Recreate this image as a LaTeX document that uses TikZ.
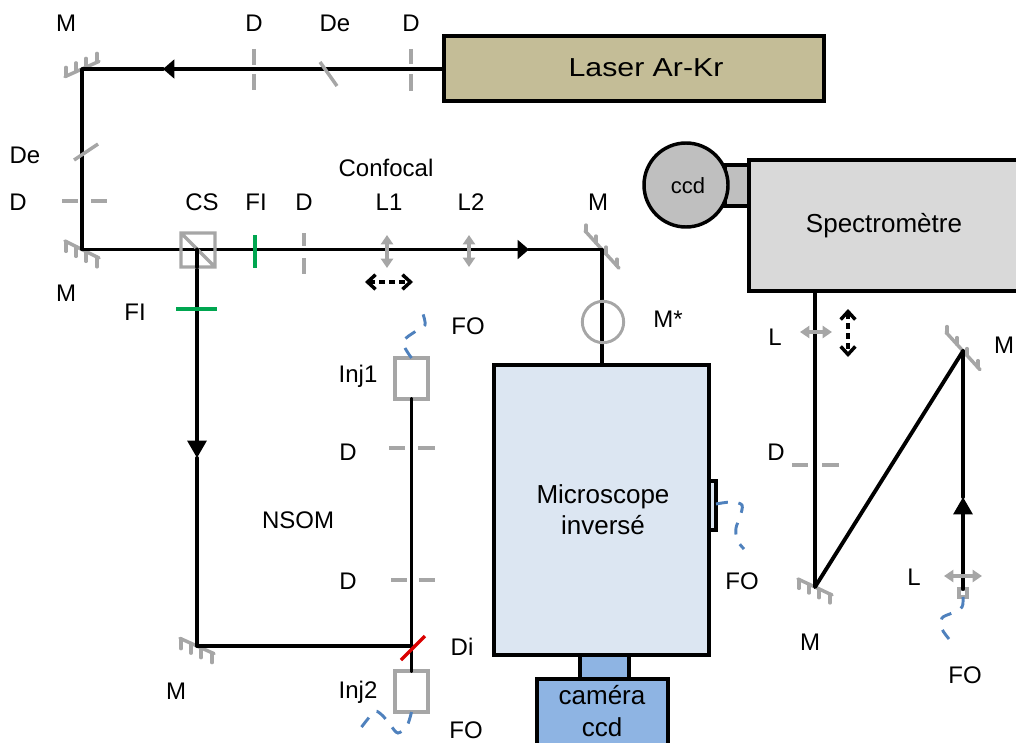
\documentclass[tikz,border=0pt]{standalone}
\usepackage{fontspec}
\setmainfont{Liberation Sans}
\usetikzlibrary{arrows.meta}
\definecolor{optgray}{HTML}{A6A6A6}
\definecolor{fibblue}{HTML}{4F81BD}
\definecolor{filtgreen}{HTML}{00A650}
\definecolor{lasertan}{HTML}{C4BD97}
\definecolor{microblue}{HTML}{DCE6F2}
\definecolor{camblue}{HTML}{8EB4E3}
\tikzset{
  beam/.style={line width=2.9pt, black, line cap=round, line join=round},
  optic/.style={line width=2.6pt, optgray},
  lens/.style={line width=2.4pt, optgray, {Triangle[length=7pt,width=9pt]}-{Triangle[length=7pt,width=9pt]}},
  shift arrow/.style={line width=2.6pt, black, dash pattern=on 4.5pt off 3pt, {Straight Barb[length=6pt,width=11pt]}-{Straight Barb[length=6pt,width=11pt]}},
  fibre/.style={line width=2.2pt, fibblue, dash pattern=on 9pt off 8pt},
  flow/.style={beam, -{Triangle[length=8.5pt,width=14pt]}},
  flow long/.style={beam, -{Triangle[length=13pt,width=14pt]}},
  lab/.style={inner sep=0pt, font=\fontsize{18}{20}\selectfont},
  big/.style={inner sep=0pt, align=center, font=\fontsize{19.5}{23.5}\selectfont},
  box/.style={draw, line width=2.6pt, inner sep=0pt, outer sep=0pt},
  graybox/.style={draw=optgray, fill=white, line width=2.6pt, inner sep=0pt, outer sep=0pt},
  mirror/.pic={
    \draw[optic, line width=2.6pt, line cap=round, line join=round] (-17,0) -- (17,0);
    \foreach \tx in {-16,-6,4,15} \draw[optic, line width=2.3pt, line cap=round] (\tx,0) -- (\tx,#1);
  },
}
\begin{document}
\begin{tikzpicture}[x=0.75pt,y=-0.75pt]
\clip (0,0) rectangle (1016,742);
% instruments
\node[box, fill=lasertan, minimum width=285pt, minimum height=48.75pt] (laser) at (634,68.5){};
\node[big] (lablaser) at (646,68){\scalebox{1.165}[1]{Laser Ar-Kr}};
\node[box, fill=black!25, minimum width=18pt, minimum height=30.75pt] (neck) at (737,185.5){};
\node[box, fill=black!25, circle, minimum size=63pt] (ccd) at (686,185){};
\node[big, font=\fontsize{16.5}{20}\selectfont] (labccd) at (688,186){ccd};
\node[box, fill=black!15, minimum width=225pt, minimum height=98.25pt] (spectro) at (899,225.5){};
\node[big] (labspectro) at (884,226){Spectromètre};
\node[box, fill=microblue, minimum width=5.25pt, minimum height=36.75pt] (port) at (712.5,505.5){};
\node[box, fill=microblue, minimum width=161.25pt, minimum height=217.5pt] (micro) at (601.5,510){};
\node[big] (labmicro) at (603,510){Microscope\\inversé};
\node[box, fill=camblue, minimum width=36.75pt, minimum height=18pt] (tube) at (604.5,667){};
\node[box, fill=camblue, minimum width=98.25pt, minimum height=60pt] (cam) at (602.5,719){};
\node[big] (labcam) at (602,711){caméra\\ccd};
% mirrors and arrow tips
\coordinate (mir0) at (82,69);
\coordinate (mir1) at (82,249.5);
\coordinate (mir2) at (602,249.5);
\coordinate (mir3) at (197,646);
\coordinate (mir4) at (815,587);
\coordinate (mir5) at (963,351);
\coordinate (split) at (197,249.5);
\coordinate (dichro) at (412,646);
\coordinate (tip0) at (163,69);
\coordinate (tip1) at (529,249.5);
\coordinate (tip2) at (197,458);
\coordinate (tip3) at (963,497);
\pic[yslant=.45] at (mir0) {mirror=-9};
\pic[yslant=-.5] at (mir1) {mirror=10};
\pic[yslant=-1.1] at (mir2) {mirror=-7};
\pic[yslant=-.45] at (mir3) {mirror=10};
\pic[yslant=-.47] at (mir4) {mirror=9};
\pic[yslant=-1.1] at (mir5) {mirror=-7};
% injection boxes
\node[graybox, minimum width=24.75pt, minimum height=30.75pt] (inj1) at (411.5,378.5){};
\node[graybox, minimum width=24.75pt, minimum height=30.75pt] (inj2) at (411.5,691.5){};
\node[graybox, minimum width=6pt, minimum height=6pt] (inj3) at (963,593){};
% beams
\draw[flow] (laser.west |- 0,69) -- (tip0);
\draw[beam] (tip0) -- (mir0) -- (mir1) -- (split);
\draw[flow] (split) -- (tip1);
\draw[beam] (tip1) -- (mir2) -- (micro.north -| mir2);
\draw[flow long] (split) -- (tip2);
\draw[beam] (tip2) -- (mir3) -- (dichro);
\draw[beam] (inj1.south) -- (inj2.north);
\draw[beam] (spectro.south -| mir4) -- (mir4) -- (mir5);
\draw[flow long] (inj3.north) -- (tip3);
\draw[beam] (tip3) -- (mir5);
% diaphragms
\draw[optic] (254,49) -- (254,65) (254,74) -- (254,90);
\draw[optic] (411,49) -- (411,64) (411,74) -- (411,91);
\draw[optic] (62,201) -- (78,201) (91,201) -- (107,201);
\draw[optic] (304,233) -- (304,246) (304,258) -- (304,274);
\draw[optic] (389,448) -- (405,448) (418,448) -- (435,448);
\draw[optic] (391,580) -- (407,580) (419,580) -- (435,580);
\draw[optic] (792,465) -- (808,465) (822,465) -- (839,465);
% densities, filters, dichroic, cube
\draw[optic] (320,62) -- (337,86);
\draw[optic] (74,160) -- (98,144);
\draw[filtgreen, line width=2.6pt] (255,235) -- (255,268);
\draw[filtgreen, line width=2.6pt] (176,309) -- (217,309);
\draw[red!85!black, line width=2.6pt] (401,660) -- (425,636);
\draw[optic] (181,233) rectangle (215,267) (181,233) -- (215,267);
\draw[beam] (split) -- (197,267);
\node[draw=optgray, line width=2.2pt, circle, minimum size=31pt, inner sep=0pt] (mstar) at (603,322){};
% lenses
\draw[lens] (387,235) -- (387,268);
\draw[lens] (469,235) -- (469,267);
\draw[lens] (800,332) -- (832,332);
\draw[lens] (944,576) -- (982,576);
\draw[shift arrow] (365,282) -- (413,282);
\draw[shift arrow] (848,309) -- (848,357);
% fibres
\draw[fibre] plot[smooth] coordinates {(inj1.north) (403,342) (416,331) (425,325) (423,314)};
\draw[fibre] plot[smooth] coordinates {(inj2.south) (407,726) (398,733) (391,726) (383,716) (375,711) (367,720) (360,729)};
\draw[fibre] plot[smooth] coordinates {(port.east |- 0,504) (731,502) (742,505) (740,517) (736,528) (737,540) (744,549)};
\draw[fibre] plot[smooth] coordinates {(inj3.south) (962,607) (952,613) (942,618) (942,629) (949,639)};
% labels
\node[lab] (lab0) at (66,23){M};
\node[lab] (lab1) at (254,23){D};
\node[lab] (lab2) at (335,23){De};
\node[lab] (lab3) at (411,23){D};
\node[lab] (lab4) at (25,155){De};
\node[lab] (lab5) at (18,202){D};
\node[lab] (lab6) at (386,168){Confocal};
\node[lab] (lab7) at (202,202){CS};
\node[lab] (lab8) at (256,202){FI};
\node[lab] (lab9) at (304,202){D};
\node[lab] (lab10) at (389,202){L1};
\node[lab] (lab11) at (471,202){L2};
\node[lab] (lab12) at (598,202){M};
\node[lab] (lab13) at (66,293){M};
\node[lab] (lab14) at (135,312){FI};
\node[lab] (lab15) at (468,326){FO};
\node[lab] (lab16) at (668,319){M*};
\node[lab] (lab17) at (358,376){Inj1};
\node[lab] (lab18) at (348,452){D};
\node[lab] (lab19) at (298,520){NSOM};
\node[lab] (lab20) at (348,581){D};
\node[lab] (lab21) at (462,647){Di};
\node[lab] (lab22) at (358,692){Inj2};
\node[lab] (lab23) at (176,691){M};
\node[lab] (lab24) at (466,730){FO};
\node[lab] (lab25) at (742,581){FO};
\node[lab] (lab26) at (775,337){L};
\node[lab] (lab27) at (776,452){D};
\node[lab] (lab28) at (1004,345){M};
\node[lab] (lab29) at (914,577){L};
\node[lab] (lab30) at (810,642){M};
\node[lab] (lab31) at (965,675){FO};
\end{tikzpicture}
\end{document}
